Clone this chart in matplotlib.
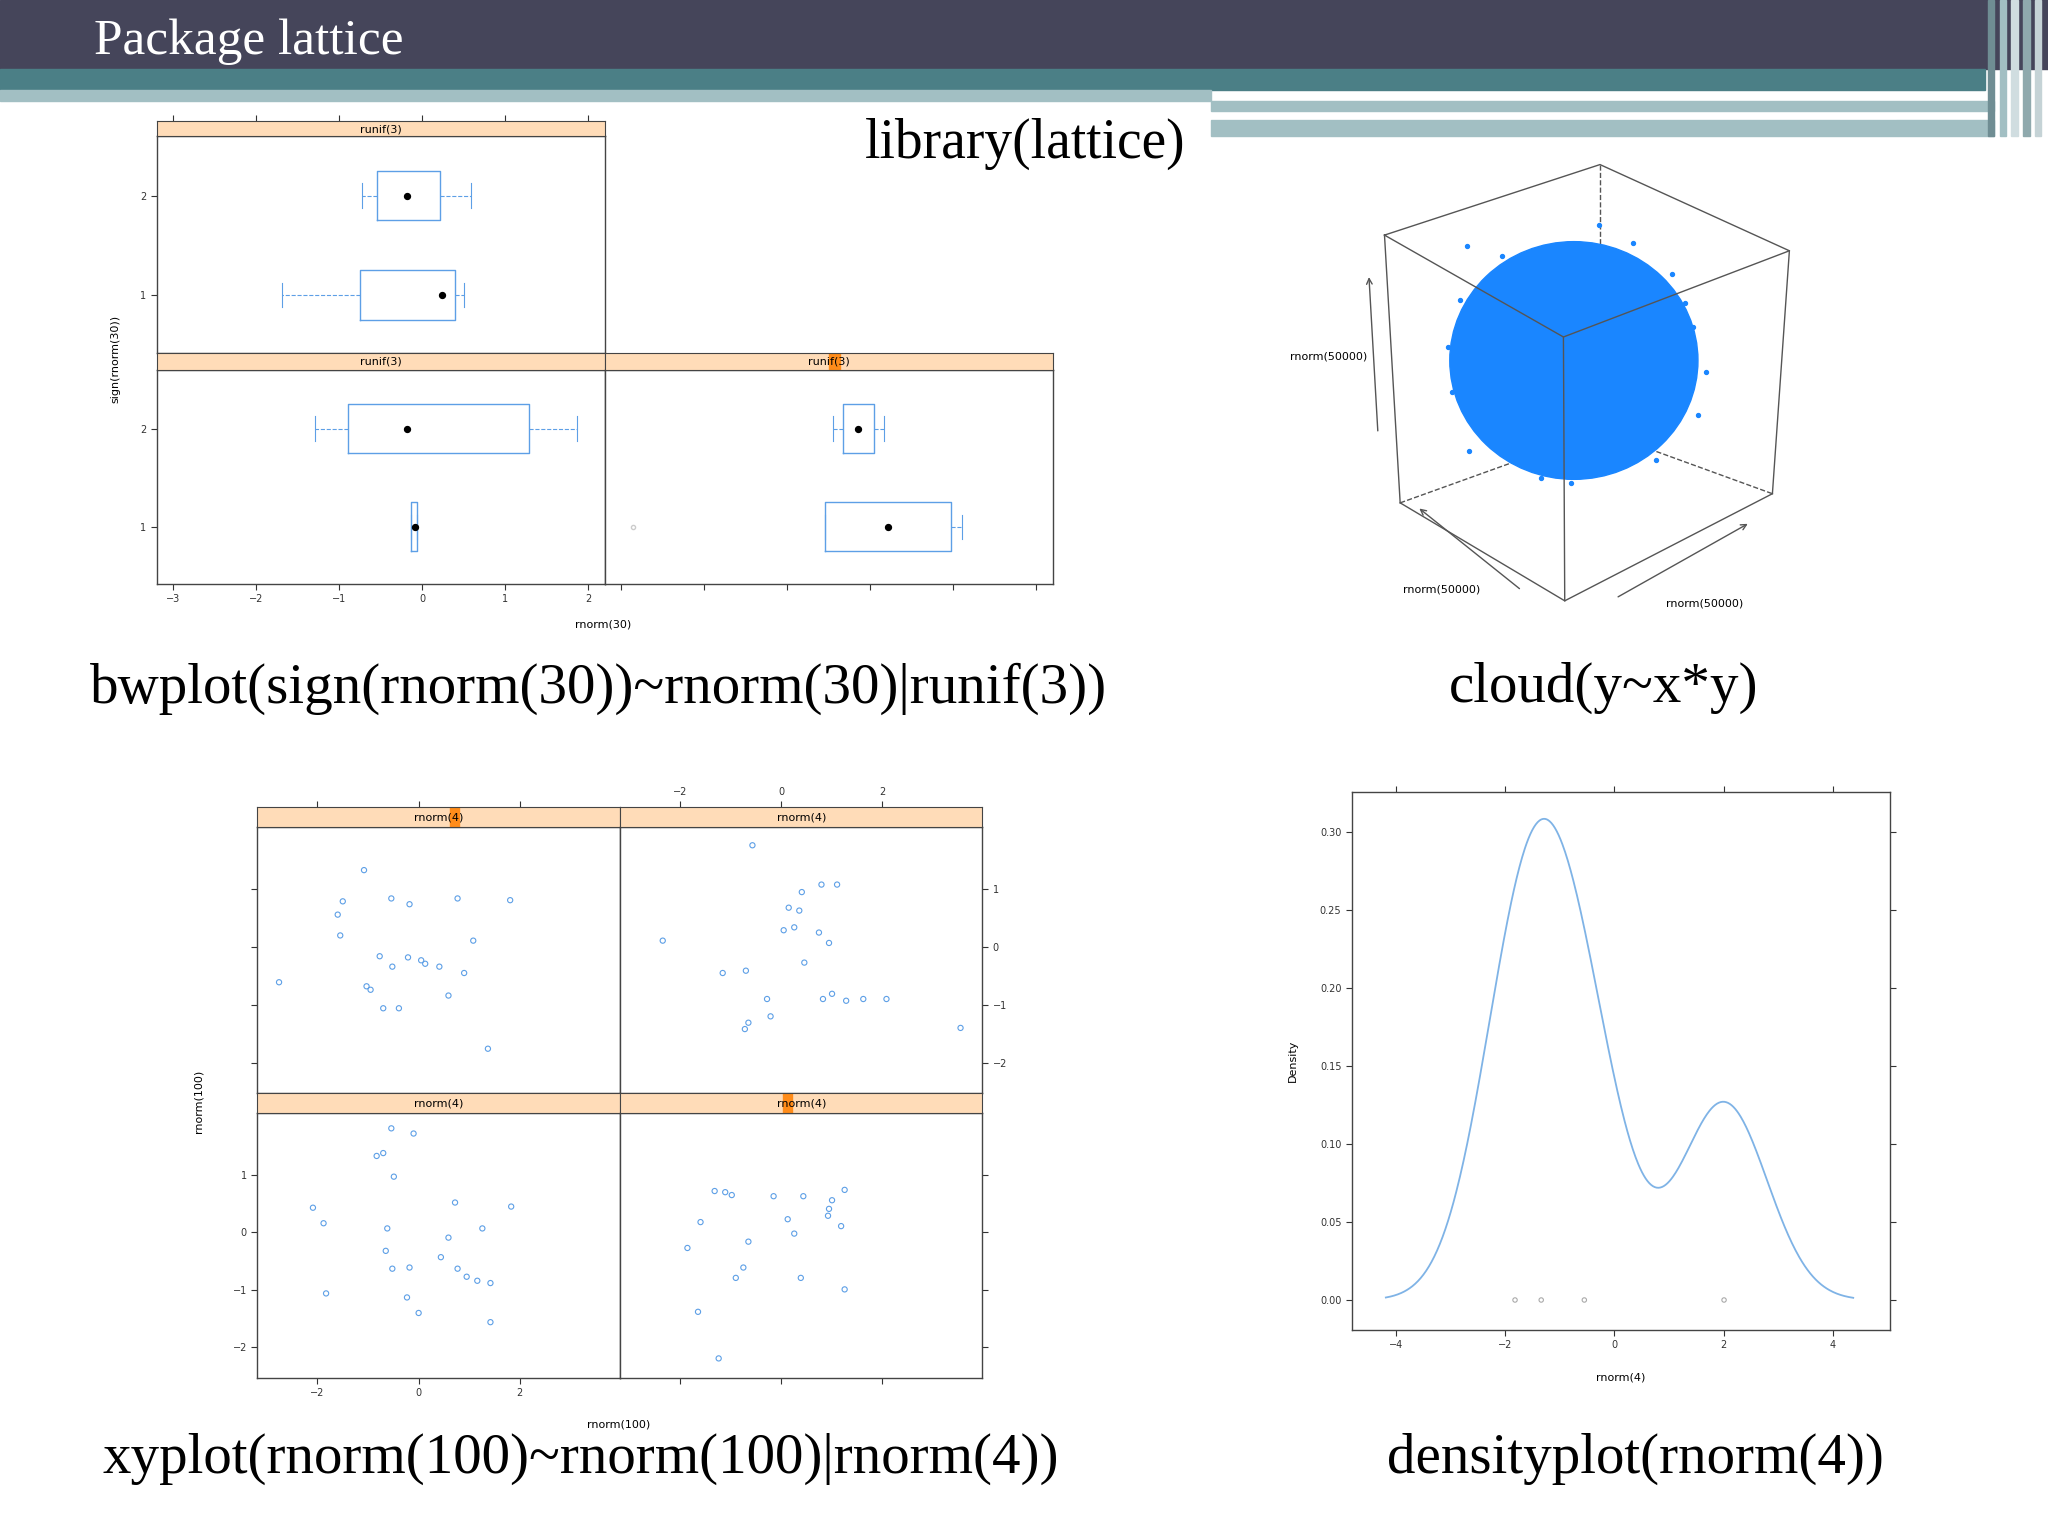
import matplotlib
matplotlib.use("Agg")
import matplotlib.pyplot as plt
import numpy as np
from matplotlib.patches import Rectangle, Ellipse

W, H = 1568, 1176
fig = plt.figure(figsize=(20.48, 15.36), dpi=100)
SERIF = ['Liberation Serif', 'DejaVu Serif']
BLUE = '#5d9fe6'
STRIP = '#ffdcb8'

def box(x0, y0, x1, y1):
    return [x0 / W, 1 - y1 / H, (x1 - x0) / W, (y1 - y0) / H]

# ---------------- data ----------------
title = "Package lattice"
captions = ["bwplot(sign(rnorm(30))~rnorm(30)|runif(3))", "cloud(y~x*y)",
            "xyplot(rnorm(100)~rnorm(100)|rnorm(4))", "densityplot(rnorm(4))"]
bw_topleft = [(-1.69, -0.75, 0.24, 0.40, 0.50), (-0.72, -0.55, -0.18, 0.21, 0.59)]
bw_botleft = [(-0.14, -0.14, -0.09, -0.06, -0.06), (-1.29, -0.90, -0.18, 1.29, 1.87)]
bw_botright = [(-0.55, -0.55, 0.21, 0.97, 1.11), (-0.45, -0.33, -0.15, 0.04, 0.17)]
bw_botright_fliers = [-2.86]

xy_tl_x = [-1.08, -1.50, -1.60, -1.55, -0.54, -0.18, 0.77, 1.81, 1.08, -2.76, -0.77, -0.52,
           -0.21, 0.05, 0.13, 0.41, -1.03, -0.95, -0.70, -0.39, 0.59, 1.37, 0.90]
xy_tl_y = [1.33, 0.79, 0.56, 0.20, 0.84, 0.74, 0.84, 0.81, 0.11, -0.61, -0.16, -0.34,
           -0.18, -0.23, -0.29, -0.34, -0.68, -0.74, -1.06, -1.06, -0.84, -1.76, -0.45]
xy_tr_x = [-0.57, 0.41, 0.15, 0.36, 0.80, 1.11, 0.05, 0.26, 0.75, 0.95, -2.35, -1.16, -0.70,
           0.46, 0.83, 1.01, 1.29, 1.63, 2.09, -0.28, -0.21, -0.72, -0.65, 3.56]
xy_tr_y = [1.76, 0.95, 0.68, 0.63, 1.08, 1.08, 0.29, 0.34, 0.25, 0.07, 0.11, -0.45, -0.41,
           -0.27, -0.90, -0.81, -0.93, -0.90, -0.90, -0.90, -1.20, -1.42, -1.31, -1.40]
xy_bl_x = [-0.54, -0.10, -0.70, -0.83, -0.49, -2.09, -1.88, -1.83, -0.62, 0.72, 1.26, 1.83,
           0.59, -0.65, -0.52, -0.18, 0.44, 0.77, 0.95, 1.16, 1.42, -0.23, 0.00, 1.42]
xy_bl_y = [1.81, 1.72, 1.38, 1.33, 0.97, 0.43, 0.16, -1.06, 0.07, 0.52, 0.07, 0.45,
           -0.09, -0.32, -0.63, -0.61, -0.43, -0.63, -0.77, -0.84, -0.88, -1.13, -1.40, -1.56]
xy_br_x = [-1.32, -1.11, -0.98, -1.60, -0.15, 0.44, 1.01, 1.26, 0.95, 0.93, 1.19, 0.13,
           0.26, -0.65, -1.86, -0.75, -0.90, 0.39, 1.26, -1.65, -1.24]
xy_br_y = [0.72, 0.70, 0.65, 0.18, 0.63, 0.63, 0.56, 0.74, 0.41, 0.29, 0.11, 0.23,
           -0.02, -0.16, -0.27, -0.61, -0.79, -0.79, -0.99, -1.38, -2.19]

dens_x = [-1.82, -1.34, -0.55, 2.01]

cube_top = [(1060, 180), (1225, 126), (1370, 192), (1197, 258)]
cube_bot = [(1072, 385), (1225, 330), (1357, 378), (1198, 460)]
blob_center = (1205, 276)
blob_size = (190, 182)
cloud_outliers_x = [1123, 1280, 1296, 1306, 1112, 1125, 1268, 1180, 1224, 1300, 1118, 1150, 1250, 1203, 1290, 1109]
cloud_outliers_y = [188, 210, 250, 285, 300, 345, 352, 366, 172, 318, 230, 196, 186, 370, 232, 266]

# ---------------- background / slide ----------------
ax0 = fig.add_axes([0, 0, 1, 1])
ax0.set_xlim(0, W); ax0.set_ylim(H, 0); ax0.axis('off')
ax0.add_patch(Rectangle((0, 0), W, 53, color='#45455a'))
ax0.add_patch(Rectangle((0, 53), 1520, 16, color='#4b7f86'))
ax0.add_patch(Rectangle((0, 69), 927, 8, color='#a2bfc3'))
ax0.add_patch(Rectangle((927, 77), 600, 8, color='#a2bfc3'))
ax0.add_patch(Rectangle((927, 92), 600, 12, color='#a2bfc3'))
ax0.add_patch(Rectangle((927, 87), 525, 3, color='white'))
for i, c in enumerate(['#6f8d93', '#a2bfc3', '#d0dde0', '#8fa9ad', '#c5d3d6']):
    ax0.add_patch(Rectangle((1522 + i * 9, 0), 5, 104, color=c))
ax0.text(72, 32, title, color='white', fontsize=37, family=SERIF, va='center')
ax0.text(785, 110, "library(lattice)", fontsize=40, family=SERIF, ha='center', va='center')
cap_pos = [(458, 527), (1228, 527), (445, 1117), (1252, 1117)]
for (cx, cy), t in zip(cap_pos, captions):
    ax0.text(cx, cy, t, fontsize=41, family=SERIF, ha='center', va='center')

# cloud cube
ax0.add_patch(Ellipse(blob_center, blob_size[0], blob_size[1], color='#1a86ff', zorder=1))
ax0.scatter(cloud_outliers_x, cloud_outliers_y, s=8, color='#1a86ff', zorder=1)
tx, ty = zip(*(cube_top + [cube_top[0]]))
ax0.plot(tx, ty, color='#555555', lw=1, zorder=2)
for k in [0, 2, 3]:
    ax0.plot([cube_top[k][0], cube_bot[k][0]], [cube_top[k][1], cube_bot[k][1]], color='#555555', lw=1, zorder=2)
ax0.plot([cube_bot[0][0], cube_bot[3][0], cube_bot[2][0]], [cube_bot[0][1], cube_bot[3][1], cube_bot[2][1]], color='#555555', lw=1)
ax0.plot([cube_top[1][0], cube_bot[1][0]], [cube_top[1][1], cube_bot[1][1]], color='#555555', lw=1, ls='--', zorder=0)
ax0.plot([cube_bot[0][0], cube_bot[1][0], cube_bot[2][0]], [cube_bot[0][1], cube_bot[1][1], cube_bot[2][1]], color='#555555', lw=1, ls='--', zorder=0)
ax0.annotate('', xy=(1048, 210), xytext=(1055, 332), arrowprops=dict(arrowstyle='->', color='#555', lw=1))
ax0.annotate('', xy=(1085, 388), xytext=(1165, 452), arrowprops=dict(arrowstyle='->', color='#555', lw=1))
ax0.annotate('', xy=(1340, 400), xytext=(1237, 458), arrowprops=dict(arrowstyle='->', color='#555', lw=1))
ax0.text(1017, 273, 'rnorm(50000)', fontsize=8, ha='center', va='center')
ax0.text(1104, 451, 'rnorm(50000)', fontsize=8, ha='center', va='center')
ax0.text(1305, 462, 'rnorm(50000)', fontsize=8, ha='center', va='center')

def style(ax):
    ax.tick_params(labelsize=7, length=4, colors='#333', direction='out')
    for s in ax.spines.values():
        s.set_color('#444'); s.set_linewidth(1)

def strip(x0, y0, x1, y1, label, mark=None, xlim=None, ticks=None, labels=False):
    a = fig.add_axes(box(x0, y0, x1, y1))
    a.set_facecolor(STRIP); a.set_yticks([])
    a.set_xlim(*(xlim or (0, 1))); a.set_ylim(0, 1)
    if ticks is not None:
        a.set_xticks(ticks); a.xaxis.tick_top()
        if not labels:
            a.set_xticklabels([])
        a.tick_params(labelsize=7, length=4, colors='#333')
    else:
        a.set_xticks([])
    lo, hi = a.get_xlim()
    if mark is not None:
        a.add_patch(Rectangle((lo + mark * (hi - lo), 0), 0.025 * (hi - lo), 1, color='#ff8c1a'))
    a.text(0.5, 0.45, label, ha='center', va='center', fontsize=8, transform=a.transAxes)
    for s in a.spines.values():
        s.set_color('#444')
    return a

# ---------------- bwplot ----------------
def bw(ax, stats, fliers=None):
    ss = []
    for i, (lo, q1, md, q3, hi) in enumerate(stats):
        ss.append(dict(whislo=lo, q1=q1, med=md, q3=q3, whishi=hi,
                       fliers=(fliers if (fliers and i == 0) else [])))
    ax.bxp(ss, positions=[1, 2], widths=0.5, orientation='horizontal',
           boxprops=dict(color=BLUE, lw=1), whiskerprops=dict(color=BLUE, lw=0.8, ls='--'),
           capprops=dict(color=BLUE, lw=0.8), medianprops=dict(lw=0),
           flierprops=dict(marker='o', markersize=3, markeredgecolor='#ccc'))
    ax.scatter([s[2] for s in stats], [1, 2], s=18, color='black', zorder=5)
    ax.set_xlim(-3.2, 2.2); ax.set_ylim(0.42, 2.6)
    style(ax)

bxt = [-3, -2, -1, 0, 1, 2]
a = fig.add_axes(box(120, 104, 463, 270)); bw(a, bw_topleft)
a.set_xticks([]); a.set_yticks([1, 2])
strip(120, 93, 463, 104, 'runif(3)', xlim=(-3.2, 2.2), ticks=bxt)
a = fig.add_axes(box(120, 283, 463, 447)); bw(a, bw_botleft)
a.set_xticks(bxt); a.set_yticks([1, 2])
strip(120, 270, 463, 283, 'runif(3)')
a = fig.add_axes(box(463, 283, 806, 447)); bw(a, bw_botright, bw_botright_fliers)
a.set_xticks(bxt); a.set_xticklabels([]); a.set_yticks([])
strip(463, 270, 806, 283, 'runif(3)', mark=0.5)
ax0.text(462, 478, 'rnorm(30)', fontsize=8, ha='center', va='center')
ax0.text(88, 275, 'sign(rnorm(30))', fontsize=8, ha='center', va='center', rotation=90)

# ---------------- xyplot ----------------
XL = (-3.19, 3.99)
def xy(ax, xs, ys):
    ax.scatter(xs, ys, s=14, facecolors='none', edgecolors=BLUE, linewidths=0.8)
    ax.set_xlim(*XL); ax.set_ylim(-2.53, 2.08)
    ax.set_xticks([-2, 0, 2]); ax.set_yticks([-2, -1, 0, 1])
    style(ax)

a = fig.add_axes(box(197, 633, 475, 837)); xy(a, xy_tl_x, xy_tl_y)
a.set_xticks([]); a.set_yticklabels([])
strip(197, 618, 475, 633, 'rnorm(4)', mark=0.53, xlim=XL, ticks=[-2, 0, 2])
a = fig.add_axes(box(475, 633, 752, 837)); xy(a, xy_tr_x, xy_tr_y)
a.set_xticks([]); a.yaxis.tick_right()
strip(475, 618, 752, 633, 'rnorm(4)', xlim=XL, ticks=[-2, 0, 2], labels=True)
a = fig.add_axes(box(197, 852, 475, 1055)); xy(a, xy_bl_x, xy_bl_y)
strip(197, 837, 475, 852, 'rnorm(4)')
a = fig.add_axes(box(475, 852, 752, 1055)); xy(a, xy_br_x, xy_br_y)
a.yaxis.tick_right(); a.set_xticklabels([]); a.set_yticklabels([])
strip(475, 837, 752, 852, 'rnorm(4)', mark=0.45)
ax0.text(474, 1091, 'rnorm(100)', fontsize=8, ha='center', va='center')
ax0.text(152, 843, 'rnorm(100)', fontsize=8, ha='center', va='center', rotation=90)

# ---------------- densityplot ----------------
d = np.array(dens_x)
n = len(d)
q1, q3 = np.percentile(d, [25, 75])
bwid = 0.9 * min(d.std(ddof=1), (q3 - q1) / 1.34) * n ** -0.2
grid = np.linspace(d.min() - 3 * bwid, d.max() + 3 * bwid, 512)
dens = np.exp(-0.5 * ((grid[:, None] - d[None, :]) / bwid) ** 2).sum(1) / (n * bwid * np.sqrt(2 * np.pi))
a = fig.add_axes(box(1035, 606, 1447, 1018))
a.plot(grid, dens, color='#7fb3e6', lw=1.3)
a.scatter(d, np.zeros(n), s=10, facecolors='none', edgecolors='#aaa', linewidths=0.8)
a.set_xlim(-4.81, 5.05); a.set_ylim(-0.019, 0.326)
a.set_xticks([-4, -2, 0, 2, 4]); a.set_yticks([0, 0.05, 0.1, 0.15, 0.2, 0.25, 0.3])
a.set_yticklabels(['0.00', '0.05', '0.10', '0.15', '0.20', '0.25', '0.30'])
a.tick_params(top=True, right=True)
style(a)
ax0.text(1241, 1055, 'rnorm(4)', fontsize=8, ha='center', va='center')
ax0.text(990, 812, 'Density', fontsize=8, ha='center', va='center', rotation=90)

fig.savefig('out.png', dpi=100)
